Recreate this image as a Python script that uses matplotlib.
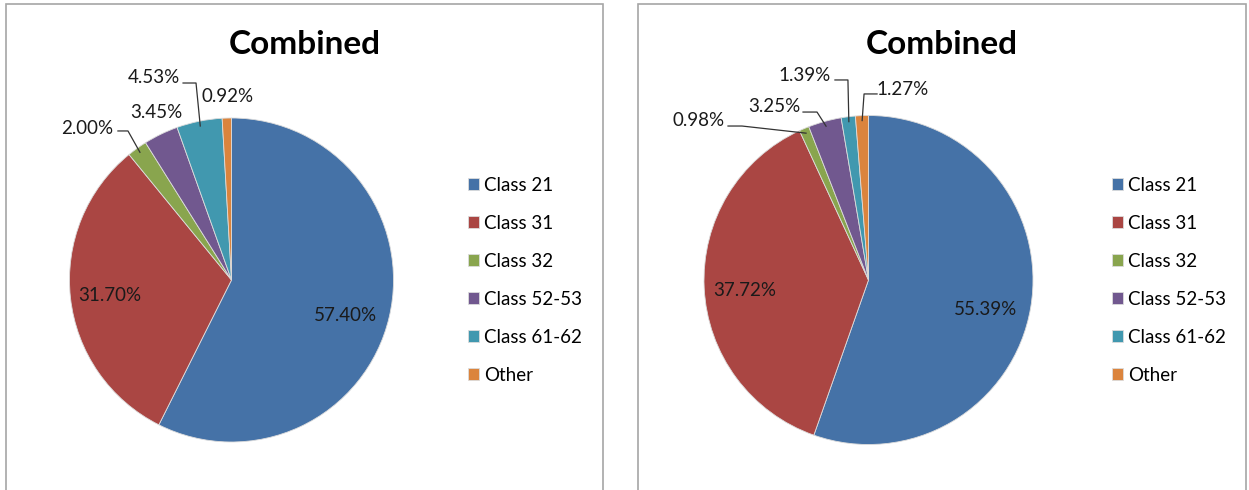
import numpy as np
import matplotlib.pyplot as plt
from matplotlib.patches import Rectangle

# data
classes = ["Class 21", "Class 31", "Class 32", "Class 52-53", "Class 61-62", "Other"]
left_values = [57.40, 31.70, 2.00, 3.45, 4.53, 0.92]
right_values = [55.39, 37.72, 0.98, 3.25, 1.39, 1.27]
colors = ["#4572A7", "#AA4643", "#89A54E", "#71588F", "#4198AF", "#DB843D"]
title = "Combined"

# label positions in pie units (radius = 1), leader lines as (start, elbow) or None
left_label_pos = [(0.701, -0.222), (-0.750, -0.093), (-0.892, 0.938),
                  (-0.466, 1.037), (-0.478, 1.253), (-0.022, 1.130)]
left_leaders = [None, None, ((-0.701, 0.920), (-0.639, 0.920)),
                None, ((-0.299, 1.216), (-0.219, 1.216)), None]
right_label_pos = [(0.714, -0.182), (-0.751, -0.061), (-1.036, 0.967),
                   (-0.574, 1.052), (-0.386, 1.246), (0.210, 1.161)]
right_leaders = [None, None, ((-0.854, 0.936), (-0.769, 0.936)),
                 ((-0.398, 1.021), (-0.313, 1.021)),
                 ((-0.204, 1.216), (-0.125, 1.216)),
                 ((0.052, 1.131), (-0.027, 1.131))]

W, H = 1249, 490
plt.rcParams['font.family'] = ['Lato', 'DejaVu Sans']
fig = plt.figure(figsize=(W / 100, H / 100), dpi=100)


def px_box(cx, cy, r):
    return [(cx - r) / W, 1 - (cy + r) / H, 2 * r / W, 2 * r / H]


def draw_panel(x0, x1, cx, cy, r, values, label_pos, leaders, legend_x):
    # panel frame (bottom edge lies below the image)
    fig.add_artist(Rectangle((x0 / W, -0.05), (x1 - x0) / W, 1.05 - 4 / H,
                             transform=fig.transFigure, fill=False,
                             edgecolor="#a6a6a6", lw=1.2, clip_on=False))
    fig.text((x0 + x1) / 2 / W, 1 - 45 / H, title, ha="center", va="center",
             fontsize=24, fontweight="bold")

    ax = fig.add_axes(px_box(cx, cy, r))
    wedges, _ = ax.pie(values, colors=colors, startangle=90, counterclock=False,
                       wedgeprops=dict(edgecolor="#dcdcdc", linewidth=0.6))
    ax.set_xlim(-1, 1)
    ax.set_ylim(-1, 1)
    ax.set_aspect("equal")
    ax.axis("off")

    for w, v, pos, lead in zip(wedges, values, label_pos, leaders):
        ax.text(pos[0], pos[1], f"{v:.2f}%", ha="center", va="center",
                fontsize=13.5, color="#1a1a1a", clip_on=False)
        if lead is not None:
            mid = np.deg2rad((w.theta1 + w.theta2) / 2)
            end = (0.97 * np.cos(mid), 0.97 * np.sin(mid))
            xs = [lead[0][0], lead[1][0], end[0]]
            ys = [lead[0][1], lead[1][1], end[1]]
            ax.plot(xs, ys, color="#333333", lw=0.9, clip_on=False)

    fig.legend(wedges, classes, loc="center left",
               bbox_to_anchor=(legend_x / W, 1 - 280 / H),
               frameon=False, fontsize=13.5, borderpad=0, borderaxespad=0,
               handlelength=0.58, handleheight=0.58, handletextpad=0.3,
               labelspacing=1.12)


draw_panel(6, 603, 231.5, 280, 162, left_values, left_label_pos, left_leaders, 468)
draw_panel(638, 1246, 868.5, 280, 164.5, right_values, right_label_pos, right_leaders, 1112)

plt.savefig("out.png", dpi=100)
